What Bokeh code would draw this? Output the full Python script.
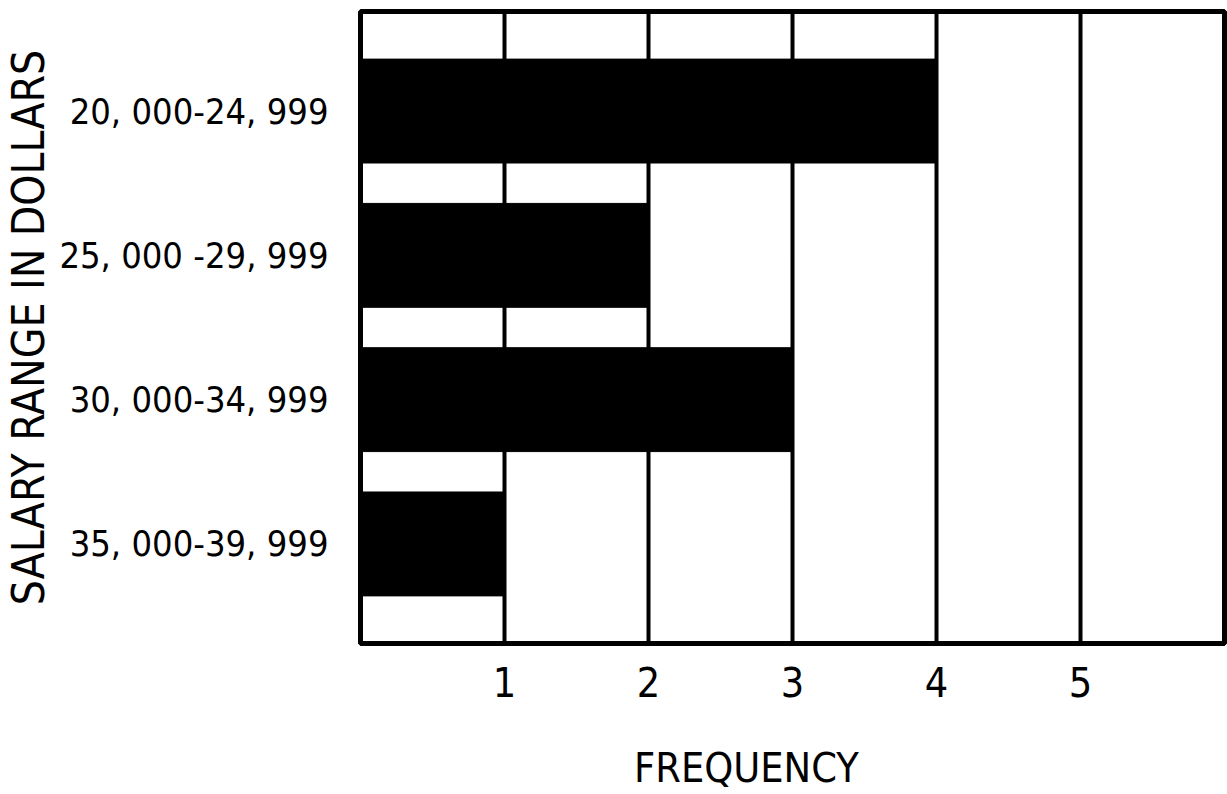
from bokeh.plotting import figure
from bokeh.models import FactorRange, Range1d, FixedTicker, LinearAxis, ColumnDataSource
from bokeh.embed import file_html
from bokeh.resources import INLINE

# Data
salary_ranges = ["20, 000-24, 999", "25, 000 -29, 999", "30, 000-34, 999", "35, 000-39, 999"]
frequency = [4, 2, 3, 1]
x_ticks = [1, 2, 3, 4, 5]
x_title = "FREQUENCY"
y_title = "SALARY RANGE IN DOLLARS"

FONT = "'DejaVu Sans Condensed', sans-serif"

factors = list(reversed(salary_ranges))
src = ColumnDataSource(dict(cat=salary_ranges, freq=frequency))

p = figure(
    width=1227, height=794,
    output_backend="svg", toolbar_location=None,
    y_range=FactorRange(factors=factors, range_padding=0.19, range_padding_units="absolute"),
    x_range=Range1d(0, 6),
    min_border_left=360, min_border_right=3, min_border_top=11, min_border_bottom=150,
)

p.hbar(y="cat", right="freq", left=0, height=0.72, source=src,
       fill_color="black", line_color="black")

p.outline_line_color = "black"
p.outline_line_width = 5

p.xgrid.ticker = FixedTicker(ticks=x_ticks)
p.xgrid.grid_line_color = "black"
p.xgrid.grid_line_width = 4
p.ygrid.grid_line_color = None

p.xaxis.ticker = FixedTicker(ticks=x_ticks)

# second bottom axis carrying the x title at its off-centre position
title_x = 2.68
title_axis = LinearAxis(ticker=FixedTicker(ticks=[title_x]),
                        major_label_overrides={title_x: x_title})
p.add_layout(title_axis, "below")

for ax in p.xaxis + p.yaxis:
    ax.axis_line_color = None
    ax.major_tick_line_color = None
    ax.minor_tick_line_color = None
    ax.major_tick_out = 0
    ax.major_tick_in = 0
    ax.major_label_text_font = FONT
    ax.major_label_text_color = "black"

p.xaxis.major_label_text_font_size = "41px"
p.xaxis[0].major_label_standoff = 23
title_axis.major_label_standoff = 44

p.yaxis.major_label_text_font_size = "36px"
p.yaxis.major_label_standoff = 32
p.yaxis.axis_label = y_title
p.yaxis.axis_label_text_font = FONT
p.yaxis.axis_label_text_font_size = "44px"
p.yaxis.axis_label_text_font_style = "normal"
p.yaxis.axis_label_text_color = "black"
p.yaxis.axis_label_standoff = 2

open("out.html", "w").write(file_html(p, INLINE))
